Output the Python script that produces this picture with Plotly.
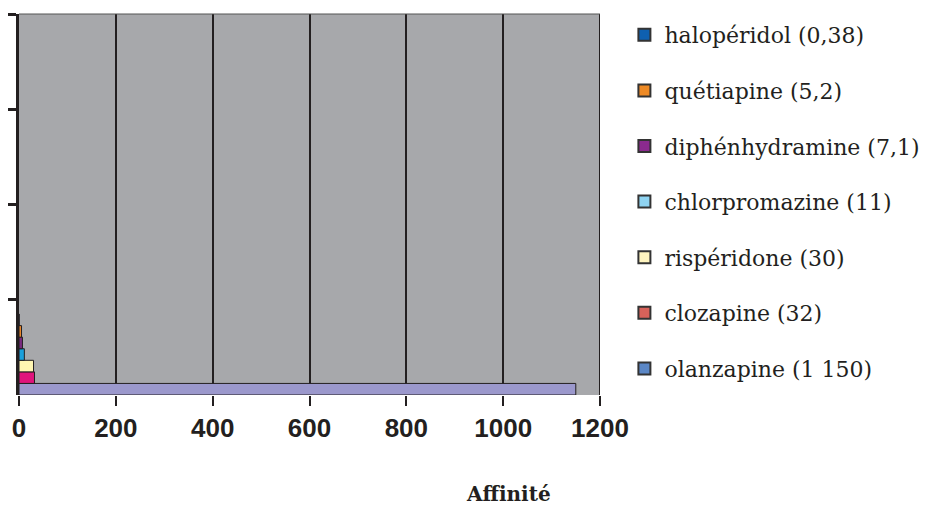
import plotly.graph_objects as go

# ---- data ----
drugs = ["olanzapine", "clozapine", "rispéridone", "chlorpromazine",
         "diphénhydramine", "quétiapine", "halopéridol"]
affinity = [1150, 32, 30, 11, 7.1, 5.2, 0.38]
legend_labels = ["olanzapine (1 150)", "clozapine (32)", "rispéridone (30)",
                 "chlorpromazine (11)", "diphénhydramine (7,1)",
                 "quétiapine (5,2)", "halopéridol (0,38)"]
bar_colors = ["#9b98cc", "#e0147c", "#fff6b2", "#1aa0dc",
              "#7a2a80", "#e8862a", "#1f4f9a"]
legend_colors = ["#5b87c6", "#d8625a", "#fff5c0", "#8fd4f2",
                 "#8b2a8e", "#ee8a25", "#0f60b0"]
x_ticks = [0, 200, 400, 600, 800, 1000, 1200]
group_pos = 0.425  # single category position on the hidden y scale

fig = go.Figure()

# bars (no legend)
for name, val, col in zip(drugs, affinity, bar_colors):
    fig.add_trace(go.Bar(
        x=[val], y=[group_pos], orientation="h", name=name,
        marker=dict(color=col, line=dict(color="#231f20", width=1)),
        showlegend=False, hoverinfo="x+name"))

# legend entries (top: halopéridol ... bottom: olanzapine)
for i, (lab, col) in enumerate(reversed(list(zip(legend_labels, legend_colors)))):
    fig.add_trace(go.Scatter(
        x=[None], y=[None], mode="markers", name=lab,
        legendgroup=f"g{i}",
        marker=dict(symbol="square", size=14, color=col,
                    line=dict(color="#333333", width=1))))

# the page body keeps its default 8px margin, so the figure is 8px smaller
fig.update_layout(
    width=920, height=499,
    margin=dict(l=11, r=328, t=6, b=112, autoexpand=False),
    paper_bgcolor="white", plot_bgcolor="#a7a8ab",
    barmode="group", bargap=0.15, bargroupgap=0,
    showlegend=True,
    legend=dict(x=1.042, y=1.0, xanchor="left", yanchor="top",
                font=dict(family="DejaVu Serif", size=22, color="#231f20"),
                tracegroupgap=24, traceorder="grouped", maxheight=495,
                bgcolor="rgba(0,0,0,0)", itemsizing="constant"),
    xaxis=dict(range=[0, 1200], tickvals=x_ticks, ticktext=[str(t) for t in x_ticks],
               showgrid=True, gridcolor="#231f20", gridwidth=2,
               zeroline=False, showline=False, automargin=False,
               ticks="outside", ticklen=10, tickwidth=2, tickcolor="#231f20",
               tickfont=dict(family="Liberation Sans", size=26, color="#231f20",
                             weight="bold"),
               fixedrange=True),
    yaxis=dict(range=[0, 4], tickvals=[1, 2, 3, 4], showticklabels=False,
               ticks="outside", ticklen=9, tickwidth=3, tickcolor="#231f20",
               showgrid=False, zeroline=False, automargin=False,
               showline=True, linewidth=3, linecolor="#231f20",
               fixedrange=True),
    annotations=[dict(text="<b>Affinité</b>", xref="paper", yref="paper",
                      x=(508 - 19) / 581, y=-(494 - 395) / 381,
                      xanchor="center", yanchor="middle", showarrow=False,
                      font=dict(family="DejaVu Serif", size=20, color="#231f20"))],
    shapes=[
        dict(type="line", xref="x", yref="paper", x0=1200, x1=1200, y0=0, y1=1,
             line=dict(color="#231f20", width=2)),
        dict(type="line", xref="paper", yref="paper", x0=0, x1=1, y0=1, y1=1,
             line=dict(color="#555555", width=1)),
    ],
)

fig.write_html("out.html")
